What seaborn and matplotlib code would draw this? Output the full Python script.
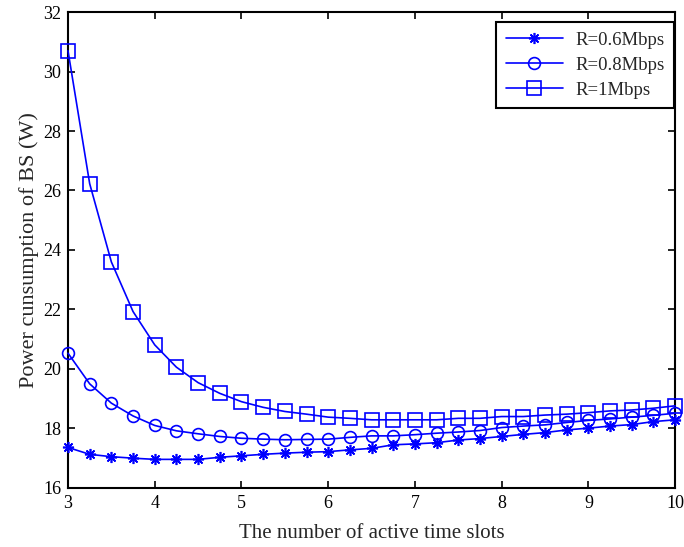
import numpy as np
import pandas as pd
import seaborn as sns
import matplotlib.pyplot as plt

# number of active time slots (step 0.25)
slots = [3.0, 3.25, 3.5, 3.75, 4.0, 4.25, 4.5, 4.75, 5.0, 5.25, 5.5, 5.75, 6.0, 6.25,
         6.5, 6.75, 7.0, 7.25, 7.5, 7.75, 8.0, 8.25, 8.5, 8.75, 9.0, 9.25, 9.5, 9.75, 10.0]

# power consumption of BS (W)
p_06 = [17.36, 17.13, 17.05, 17.00, 16.96, 16.96, 16.96, 17.03, 17.08, 17.13, 17.17, 17.20,
        17.22, 17.28, 17.33, 17.45, 17.48, 17.52, 17.61, 17.66, 17.73, 17.80, 17.86, 17.95,
        18.01, 18.08, 18.13, 18.23, 18.29]
p_08 = [20.53, 19.50, 18.85, 18.42, 18.10, 17.92, 17.82, 17.73, 17.67, 17.64, 17.62, 17.63,
        17.64, 17.70, 17.75, 17.75, 17.79, 17.84, 17.88, 17.93, 18.03, 18.08, 18.12, 18.20,
        18.27, 18.32, 18.38, 18.44, 18.51]
p_1 = [30.70, 26.23, 23.60, 21.93, 20.81, 20.06, 19.54, 19.18, 18.90, 18.71, 18.57, 18.48,
       18.38, 18.34, 18.29, 18.29, 18.29, 18.29, 18.34, 18.34, 18.40, 18.40, 18.45, 18.48,
       18.53, 18.59, 18.62, 18.68, 18.76]
series_names = ['R=0.6Mbps', 'R=0.8Mbps', 'R=1Mbps']

df = pd.DataFrame({
    'slots': slots * 3,
    'power': p_06 + p_08 + p_1,
    'R': [n for n in series_names for _ in slots],
})

sns.set_style('ticks')
plt.rcParams['font.family'] = ['Liberation Serif', 'DejaVu Serif']

fig = plt.figure(figsize=(6.84, 5.47), dpi=100)
ax = fig.add_axes([0.0994, 0.108, 0.8876, 0.870])

sns.lineplot(data=df, x='slots', y='power', hue='R', style='R',
             palette=['blue'] * 3, markers=['*', 'o', 's'], dashes=False,
             markersize=8.5, markerfacecolor='none', markeredgecolor='blue',
             markeredgewidth=1.2, linewidth=1.2, legend=False, clip_on=False,
             zorder=3, ax=ax)

# matlab-like asterisk for the first series
ax.lines[0].set_marker((8, 2, 0))
ax.lines[0].set_markersize(8)
ax.lines[2].set_markersize(9.5)

ax.set_xlim(3, 10)
ax.set_ylim(16, 32)
ax.set_xticks(range(3, 11))
ax.set_yticks(range(16, 33, 2))
ax.tick_params(direction='in', length=5, width=1.2, top=True, right=True,
               labelsize=13, colors='black')
ax.tick_params(axis='x', pad=5)
ax.tick_params(axis='y', pad=5)
for s in ax.spines.values():
    s.set_visible(True)
    s.set_linewidth(1.5)
    s.set_color('black')

ax.set_xlabel('The number of active time slots', fontsize=15, labelpad=9)
ax.set_ylabel('Power cunsumption of BS (W)', fontsize=16, labelpad=3)

leg = ax.legend(handles=ax.lines[:3], labels=series_names, loc='upper right',
                bbox_to_anchor=(0.998, 0.979), borderaxespad=0,
                fontsize=13.5, frameon=True, fancybox=False, edgecolor='black',
                framealpha=1, handlelength=3.05, labelspacing=0.42,
                borderpad=0.5, handletextpad=0.66)
leg.get_frame().set_linewidth(1.5)

fig.savefig('out.png', dpi=100)
